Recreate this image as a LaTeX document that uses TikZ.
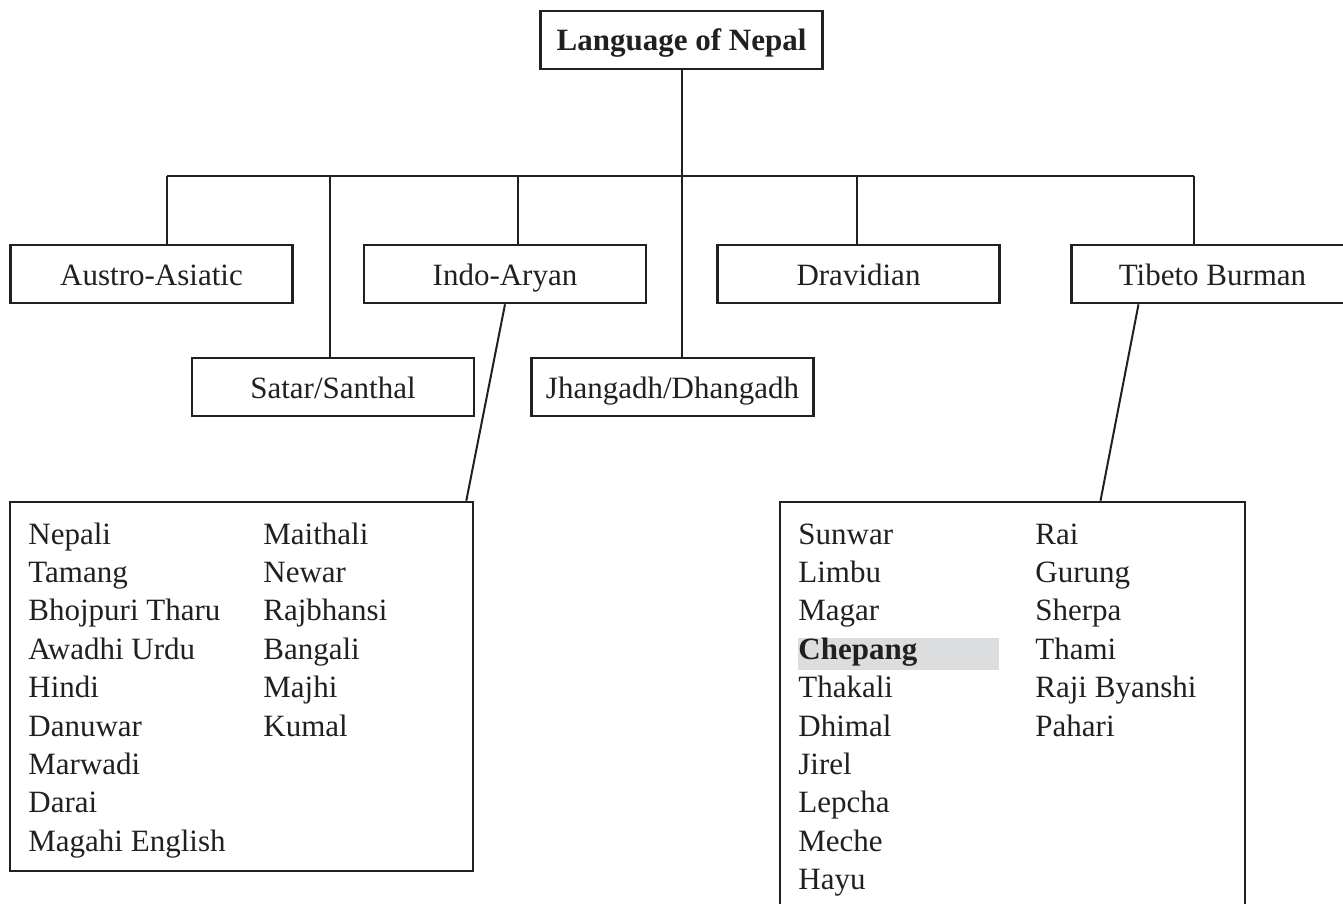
\documentclass[tikz,border=0pt]{standalone}
\usepackage{fontspec}
\setmainfont{Liberation Serif}
\usetikzlibrary{positioning,calc}
\definecolor{ink}{HTML}{231F20}
\definecolor{shade}{HTML}{DCDDDF}
\tikzset{
  langbox/.style={draw=ink,line width=1.3pt,minimum width=141pt,minimum height=29pt,inner sep=0pt,
    text height=11pt,text depth=0pt,font=\fontsize{15.5pt}{19pt}\selectfont,text=ink},
  listbox/.style={draw=ink,line width=1.3pt,inner sep=0pt},
  item/.style={anchor=base west,inner sep=0pt,font=\fontsize{15.5pt}{19pt}\selectfont,text=ink},
  hiitem/.style={item,fill=shade,text width=100.5pt,text height=10.5pt,text depth=5.5pt,
    font=\fontsize{15.5pt}{19pt}\selectfont\bfseries},
  link/.style={draw=ink,line width=1pt}
}

\begin{document}
\begin{tikzpicture}[x=0.5pt,y=-0.5pt]
\useasboundingbox (0,0) rectangle (1343,904);

% families
\node[langbox,font=\fontsize{15.5pt}{19pt}\selectfont\bfseries] (top) at (681.5,40) {Language of Nepal};
\node[langbox] (austro) at (151.5,274) {Austro-Asiatic};
\node[langbox] (indo)   at (505,274)   {Indo-Aryan};
\node[langbox] (dravid) at (858.5,274) {Dravidian};
\node[langbox] (tibeto) at (1212.5,274) {Tibeto Burman};
\node[langbox] (satar)  at (333,387)   {Satar/Santhal};
\node[langbox] (jhang)  at (672.5,387) {Jhangadh/Dhangadh};

% lists
\node[listbox,minimum width=231.5pt,minimum height=184.5pt] (indolist) at (241.5,686.5) {};
\node[listbox,minimum width=232.5pt,minimum height=220pt] (tiblist) at (1012.5,722) {};

\foreach \t [count=\i from 0] in {Nepali,Tamang,Bhojpuri Tharu,Awadhi Urdu,Hindi,Danuwar,Marwadi,Darai,Magahi English}
  \node[item] (ia-a\i) at (28,544+38.4*\i) {\t};
\foreach \t [count=\i from 0] in {Maithali,Newar,Rajbhansi,Bangali,Majhi,Kumal}
  \node[item] (ia-b\i) at (263,544+38.4*\i) {\t};
\foreach \t/\s [count=\i from 0] in {Sunwar/item,Limbu/item,Magar/item,Chepang/hiitem,Thakali/item,
    Dhimal/item,Jirel/item,Lepcha/item,Meche/item,Hayu/item}
  \node[\s] (tb-a\i) at (798,544+38.4*\i) {\t};
\foreach \t [count=\i from 0] in {Rai,Gurung,Sherpa,Thami,Raji Byanshi,Pahari}
  \node[item] (tb-b\i) at (1035,544+38.4*\i) {\t};

% tree lines
\draw[link] (top.south) -- (top.south |- jhang.north);
\coordinate (barL) at (167,176);
\coordinate (barR) at (1194,176);
\draw[link] (barL) -- (barR);
\foreach \dx/\n in {167/austro,330/satar,518/indo,857/dravid,1194/tibeto}
  \draw[link] (\dx,176) coordinate (drop-\n) -- (drop-\n |- \n.north);

\draw[link] (indo.south) -- ([xshift=-4pt]indolist.north east);
\draw[link] ([xshift=-37pt]tibeto.south) -- ([xshift=44pt]tiblist.north);
\end{tikzpicture}
\end{document}
